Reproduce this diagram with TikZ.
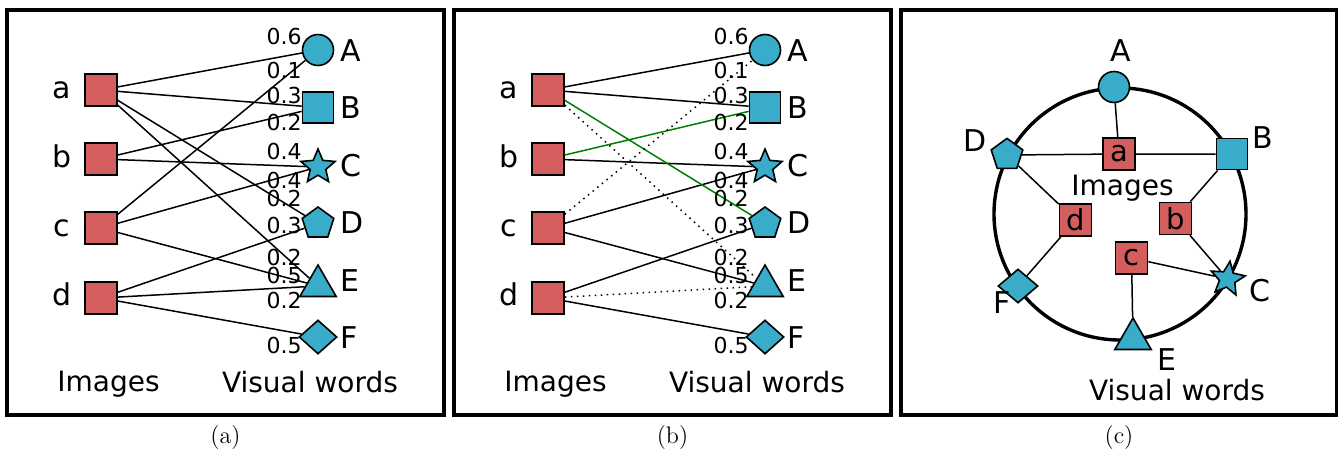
\documentclass[tikz,border=0pt]{standalone}
\usepackage{fontspec}
\newfontfamily\dejavu{DejaVu Sans}
\usepackage{tikz}
\usetikzlibrary{positioning,shapes.geometric}

\definecolor{imgred}{RGB}{212,94,94}
\definecolor{wordblue}{RGB}{56,172,200}
\definecolor{edgegreen}{RGB}{0,128,0}

\tikzset{
  panelbox/.style={draw, line width=2pt},
  img/.style={draw, fill=imgred, line width=0.8pt, minimum size=16pt, inner sep=0pt,
    font=\dejavu\fontsize{14.5}{14.5}\selectfont},
  word/.style={draw, fill=wordblue, line width=0.8pt, inner sep=0pt},
  vcirc/.style={word, circle, minimum size=15.5pt},
  vsq/.style={word, rectangle, minimum size=15.5pt},
  vstar/.style={word, star, star points=5, star point ratio=2.2, minimum size=18pt},
  vpent/.style={word, regular polygon, regular polygon sides=5, minimum size=16.6pt},
  vtri/.style={word, regular polygon, regular polygon sides=3, minimum size=21pt},
  vdia/.style={word, diamond, minimum width=19pt, minimum height=17pt},
  ring/.style={draw, circle, line width=1.7pt, minimum size=126pt, inner sep=0pt},
  lbl/.style={font=\dejavu\fontsize{15}{15}\selectfont, inner sep=0pt},
  side/.style={font=\dejavu\fontsize{14}{14}\selectfont, inner sep=0pt, anchor=base},
  wt/.style={font=\dejavu\fontsize{11}{11}\selectfont, inner sep=0pt, anchor=base east},
  link/.style={line width=0.75pt},
  weak/.style={link, dash pattern=on 0.75pt off 2.25pt},
  strong/.style={link, draw=edgegreen},
  capt/.style={font=\fontsize{12}{14}\selectfont, inner sep=0pt},
}

\begin{document}
\begin{tikzpicture}[x=0.5pt,y=-0.5pt]
  \useasboundingbox (0,0) rectangle (1338,456);

  \draw[panelbox] (7,10) rectangle (444,415);
  \draw[panelbox] (454,10) rectangle (891,415);
  \draw[panelbox] (901,10) rectangle (1337,415);

  % (a)
  \node[img] (a1) at (101,90)  {};
  \node[img] (b1) at (101,159) {};
  \node[img] (c1) at (101,228) {};
  \node[img] (d1) at (101,298) {};
  \node[lbl, anchor=base] (ta1) at (62,98)  {a};
  \node[lbl, anchor=base] (tb1) at (62,167) {b};
  \node[lbl, anchor=base] (tc1) at (62,236) {c};
  \node[lbl, anchor=base] (td1) at (62,305) {d};

  \node[vcirc] (A1) at (318,50)    {};
  \node[vsq]   (B1) at (318,107.5) {};
  \node[vstar] (C1) at (318,167)   {};
  \node[vpent] (D1) at (318,223.6) {};
  \node[vtri]  (E1) at (318,286)   {};
  \node[vdia]  (F1) at (318,337)   {};
  \node[lbl, anchor=base west] (tA1) at (340,61.7)  {A};
  \node[lbl, anchor=base west] (tB1) at (340,118.3) {B};
  \node[lbl, anchor=base west] (tC1) at (340,176.7) {C};
  \node[lbl, anchor=base west] (tD1) at (340,233.3) {D};
  \node[lbl, anchor=base west] (tE1) at (340,291.7) {E};
  \node[lbl, anchor=base west] (tF1) at (340,348)   {F};

  \draw[link] (a1) -- (A1) (a1) -- (B1) (a1) -- (D1) (a1) -- (E1);
  \draw[link] (b1) -- (B1) (b1) -- (C1);
  \draw[link] (c1) -- (A1) (c1) -- (C1) (c1) -- (E1);
  \draw[link] (d1) -- (D1) (d1) -- (E1) (d1) -- (F1);

  \node[wt] (w11)  at (302,44.3)  {0.6};
  \node[wt] (w12)  at (302,78.3)  {0.1};
  \node[wt] (w13)  at (302,103.3) {0.3};
  \node[wt] (w14)  at (302,130)   {0.2};
  \node[wt] (w15)  at (302,159.3) {0.4};
  \node[wt] (w16)  at (302,188.3) {0.4};
  \node[wt] (w17)  at (302,206.7) {0.2};
  \node[wt] (w18)  at (302,233.3) {0.3};
  \node[wt] (w19)  at (302,265)   {0.2};
  \node[wt] (w110) at (302,283.3) {0.5};
  \node[wt] (w111) at (302,308.3) {0.2};
  \node[wt] (w112) at (302,353.3) {0.5};

  \node[side] (img1) at (108.5,391) {Images};
  \node[side] (vis1) at (310,392)   {Visual words};
  \node[capt] (cap1) at (225.5,437.5) {(a)};

  % (b)
  \begin{scope}[xshift=223.5pt]
    \node[img] (a2) at (101,90)  {};
    \node[img] (b2) at (101,159) {};
    \node[img] (c2) at (101,228) {};
    \node[img] (d2) at (101,298) {};
    \node[lbl, anchor=base] (ta2) at (62,98)  {a};
    \node[lbl, anchor=base] (tb2) at (62,167) {b};
    \node[lbl, anchor=base] (tc2) at (62,236) {c};
    \node[lbl, anchor=base] (td2) at (62,305) {d};

    \node[vcirc] (A2) at (318,50)    {};
    \node[vsq]   (B2) at (318,107.5) {};
    \node[vstar] (C2) at (318,167)   {};
    \node[vpent] (D2) at (318,223.6) {};
    \node[vtri]  (E2) at (318,286)   {};
    \node[vdia]  (F2) at (318,337)   {};
    \node[lbl, anchor=base west] (tA2) at (340,61.7)  {A};
    \node[lbl, anchor=base west] (tB2) at (340,118.3) {B};
    \node[lbl, anchor=base west] (tC2) at (340,176.7) {C};
    \node[lbl, anchor=base west] (tD2) at (340,233.3) {D};
    \node[lbl, anchor=base west] (tE2) at (340,291.7) {E};
    \node[lbl, anchor=base west] (tF2) at (340,348)   {F};

    \draw[link] (a2) -- (A2) (a2) -- (B2) (b2) -- (C2);
    \draw[link] (c2) -- (C2) (c2) -- (E2);
    \draw[link] (d2) -- (D2) (d2) -- (F2);
    \draw[strong] (a2) -- (D2) (b2) -- (B2);
    \draw[weak] (a2) -- (E2) (c2) -- (A2) (d2) -- (E2);

    \node[wt] (w21)  at (302,44.3)  {0.6};
    \node[wt] (w22)  at (302,78.3)  {0.1};
    \node[wt] (w23)  at (302,103.3) {0.3};
    \node[wt] (w24)  at (302,130)   {0.2};
    \node[wt] (w25)  at (302,159.3) {0.4};
    \node[wt] (w26)  at (302,188.3) {0.4};
    \node[wt] (w27)  at (302,206.7) {0.2};
    \node[wt] (w28)  at (302,233.3) {0.3};
    \node[wt] (w29)  at (302,265)   {0.2};
    \node[wt] (w210) at (302,283.3) {0.5};
    \node[wt] (w211) at (302,308.3) {0.2};
    \node[wt] (w212) at (302,353.3) {0.5};

    \node[side] (img2) at (108.5,391) {Images};
    \node[side] (vis2) at (310,392)   {Visual words};
    \node[capt] (cap2) at (225.5,437.5) {(b)};
  \end{scope}

  % (c)
  \node[ring] (ring) at (1120,214) {};
  \node[vcirc] (A3) at (1114,87)    {};
  \node[vsq]   (B3) at (1232,154)   {};
  \node[vstar, rotate=-8] (C3) at (1227.5,279) {};
  \node[vpent] (D3) at (1007,155)   {};
  \node[vtri]  (E3) at (1133,339)   {};
  \node[vdia, minimum width=20pt] (F3) at (1018,286) {};
  \node[lbl, anchor=base] (tA3) at (1121,61.7)   {A};
  \node[lbl, anchor=base] (tB3) at (1263,148.3)  {B};
  \node[lbl, anchor=base] (tC3) at (1259.5,301.7) {C};
  \node[lbl, anchor=base] (tD3) at (974.7,151.7) {D};
  \node[lbl, anchor=base] (tE3) at (1166.7,370)  {E};
  \node[lbl, anchor=base] (tF3) at (1002,313.3)  {F};

  \node[img] (a3) at (1119,154)    {a};
  \node[img] (b3) at (1175.5,218.5) {b};
  \node[img] (c3) at (1131.5,258)  {c};
  \node[img] (d3) at (1075.5,220)  {d};

  \draw[link] (A3) -- (a3) (D3) -- (a3) -- (B3);
  \draw[link] (D3) -- (d3) -- (F3);
  \draw[link] (B3) -- (b3) -- (C3);
  \draw[link] (C3) -- (c3) -- (E3);

  \node[side] (img3) at (1122.5,195) {Images};
  \node[side] (vis3) at (1177,400)   {Visual words};
  \node[capt] (cap3) at (1119,437.5) {(c)};
\end{tikzpicture}
\end{document}
